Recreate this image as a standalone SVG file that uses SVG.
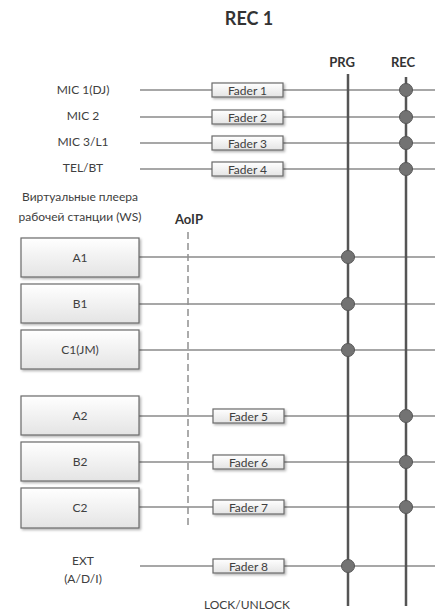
<svg xmlns="http://www.w3.org/2000/svg" width="435" height="612" viewBox="0 0 435 612">
<defs>
<linearGradient id="gBox" x1="0" y1="0" x2="0" y2="1">
<stop offset="0" stop-color="#ffffff"/>
<stop offset="1" stop-color="#e4e4e4"/>
</linearGradient>
<filter id="sh" x="-10%" y="-20%" width="130%" height="160%">
<feDropShadow dx="1.5" dy="1.5" stdDeviation="1" flood-color="#000" flood-opacity="0.3"/>
</filter>
</defs>
<style>
text{font-family:Lato,"Open Sans","Liberation Sans",sans-serif;fill:#404040;font-size:12px}
.title{font-size:18px;font-weight:bold;fill:#333}
.hdr{font-size:13px;font-weight:bold;fill:#333}
.lbl{text-anchor:middle}
.bus{stroke:#555;stroke-width:2.5;fill:none}
.ln{stroke:#8a8a8a;stroke-width:1.5;fill:none}
.box{fill:url(#gBox);stroke:#6a6a6a;stroke-width:1.2;filter:url(#sh)}
.fader{fill:url(#gBox);stroke:#6a6a6a;stroke-width:1.2;filter:url(#sh)}
.dot{fill:#737373;stroke:#555;stroke-width:1}
.dash{stroke:#909090;stroke-width:1.5;stroke-dasharray:7,4;fill:none}
</style>
<rect width="435" height="612" fill="#fff"/>
<text class="title lbl" x="249" y="25">REC 1</text>
<text class="hdr lbl" x="342" y="67">PRG</text>
<text class="hdr lbl" x="403" y="67">REC</text>
<text class="hdr lbl" x="189" y="224">AoIP</text>

<g id="connectors">
<line class="ln" x1="140" y1="90" x2="435" y2="90"/>
<line class="ln" x1="140" y1="117" x2="435" y2="117"/>
<line class="ln" x1="140" y1="143" x2="435" y2="143"/>
<line class="ln" x1="140" y1="169" x2="435" y2="169"/>
<line class="ln" x1="139" y1="257" x2="435" y2="257"/>
<line class="ln" x1="139" y1="304" x2="435" y2="304"/>
<line class="ln" x1="139" y1="350" x2="435" y2="350"/>
<line class="ln" x1="139" y1="416" x2="435" y2="416"/>
<line class="ln" x1="139" y1="462" x2="435" y2="462"/>
<line class="ln" x1="139" y1="507" x2="435" y2="507"/>
<line class="ln" x1="140" y1="566" x2="435" y2="566"/>
<line class="dash" x1="188" y1="232" x2="188" y2="528"/>
<line class="bus" x1="348" y1="74" x2="348" y2="606"/>
<line class="bus" x1="406" y1="77" x2="406" y2="606"/>
</g>

<g id="labels">
<text class="lbl" x="83" y="94">MIC 1(DJ)</text>
<text class="lbl" x="83" y="120">MIC 2</text>
<text class="lbl" x="83" y="146">MIC 3/L1</text>
<text class="lbl" x="83" y="172">TEL/BT</text>
<text class="lbl" x="80" y="201">Виртуальные плеера</text>
<text class="lbl" x="80" y="221">рабочей станции (WS)</text>
<text class="lbl" x="83" y="565">EXT</text>
<text class="lbl" x="83" y="583">(A/D/I)</text>
<text class="lbl" x="247" y="609">LOCK/UNLOCK</text>
</g>

<g id="fader1"><rect class="fader" x="212" y="83" width="71" height="14"/><text class="lbl" x="247.5" y="94.5">Fader 1</text></g>
<g id="fader2"><rect class="fader" x="212" y="110" width="71" height="14"/><text class="lbl" x="247.5" y="121.5">Fader 2</text></g>
<g id="fader3"><rect class="fader" x="212" y="136" width="71" height="14"/><text class="lbl" x="247.5" y="147.5">Fader 3</text></g>
<g id="fader4"><rect class="fader" x="212" y="162" width="71" height="14"/><text class="lbl" x="247.5" y="173.5">Fader 4</text></g>
<g id="fader5"><rect class="fader" x="213" y="409" width="71" height="14"/><text class="lbl" x="248.5" y="420.5">Fader 5</text></g>
<g id="fader6"><rect class="fader" x="213" y="455" width="71" height="14"/><text class="lbl" x="248.5" y="466.5">Fader 6</text></g>
<g id="fader7"><rect class="fader" x="213" y="500" width="71" height="14"/><text class="lbl" x="248.5" y="511.5">Fader 7</text></g>
<g id="fader8"><rect class="fader" x="213" y="559" width="71" height="14"/><text class="lbl" x="248.5" y="570.5">Fader 8</text></g>

<g id="A1"><rect class="box" x="21" y="238" width="118" height="39"/><text class="lbl" x="80" y="261.5">A1</text></g>
<g id="B1"><rect class="box" x="21" y="284" width="118" height="39"/><text class="lbl" x="80" y="307.5">B1</text></g>
<g id="C1"><rect class="box" x="21" y="330" width="118" height="39"/><text class="lbl" x="80" y="353.5">C1(JM)</text></g>
<g id="A2"><rect class="box" x="21" y="396" width="118" height="39"/><text class="lbl" x="80" y="419.5">A2</text></g>
<g id="B2"><rect class="box" x="21" y="442" width="118" height="39"/><text class="lbl" x="80" y="465.5">B2</text></g>
<g id="C2"><rect class="box" x="21" y="488" width="118" height="40"/><text class="lbl" x="80" y="511.5">C2</text></g>

<g id="junctions">
<circle class="dot" cx="406" cy="90" r="6.5"/>
<circle class="dot" cx="406" cy="117" r="6.5"/>
<circle class="dot" cx="406" cy="143" r="6.5"/>
<circle class="dot" cx="406" cy="169" r="6.5"/>
<circle class="dot" cx="348" cy="257" r="6.5"/>
<circle class="dot" cx="348" cy="304" r="6.5"/>
<circle class="dot" cx="348" cy="350" r="6.5"/>
<circle class="dot" cx="406" cy="416" r="6.5"/>
<circle class="dot" cx="406" cy="462" r="6.5"/>
<circle class="dot" cx="406" cy="507" r="6.5"/>
<circle class="dot" cx="348" cy="566" r="6.5"/>
</g>
</svg>
